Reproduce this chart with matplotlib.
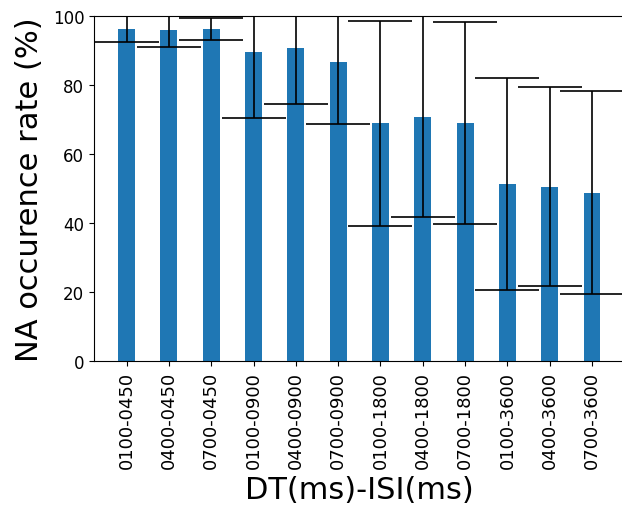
import matplotlib
matplotlib.use("Agg")
import matplotlib.pyplot as plt
import numpy as np

# condition labels: DT(ms)-ISI(ms)
labels = ['0100-0450', '0400-0450', '0700-0450',
          '0100-0900', '0400-0900', '0700-0900',
          '0100-1800', '0400-1800', '0700-1800',
          '0100-3600', '0400-3600', '0700-3600']
rates = [96.4, 95.9, 96.4, 89.7, 90.9, 86.8, 69.0, 70.9, 69.0, 51.5, 50.6, 48.9]
errors = [3.8, 4.8, 3.2, 19.1, 16.2, 17.9, 29.7, 29.2, 29.3, 30.7, 28.9, 29.5]

W, H = 622, 510
fig = plt.figure(figsize=(W / 100, H / 100), dpi=100)
# axes run past the right edge of the picture (the reference is cropped there)
left, right, top, bottom = 94, 624.6, 17.3, 362.3
ax = fig.add_axes([left / W, (H - bottom) / H, (right - left) / W, (bottom - top) / H])

x = np.arange(len(labels))
ax.bar(x, rates, width=0.4, color='#1f77b4', yerr=errors, capsize=22.7,
       error_kw=dict(ecolor='black', elinewidth=1.2, capthick=1.2))

ax.set_xlim(-0.77, 11.77)
ax.set_ylim(0, 100)
ax.set_xticks(x)
ax.set_xticklabels(labels, rotation=90, fontsize=13)
ax.tick_params(axis='y', labelsize=12)
ax.set_xlabel('DT(ms)-ISI(ms)', fontsize=22, labelpad=5)
ax.set_ylabel('NA occurence rate (%)', fontsize=22, labelpad=6)

fig.savefig('out.png', dpi=100)
